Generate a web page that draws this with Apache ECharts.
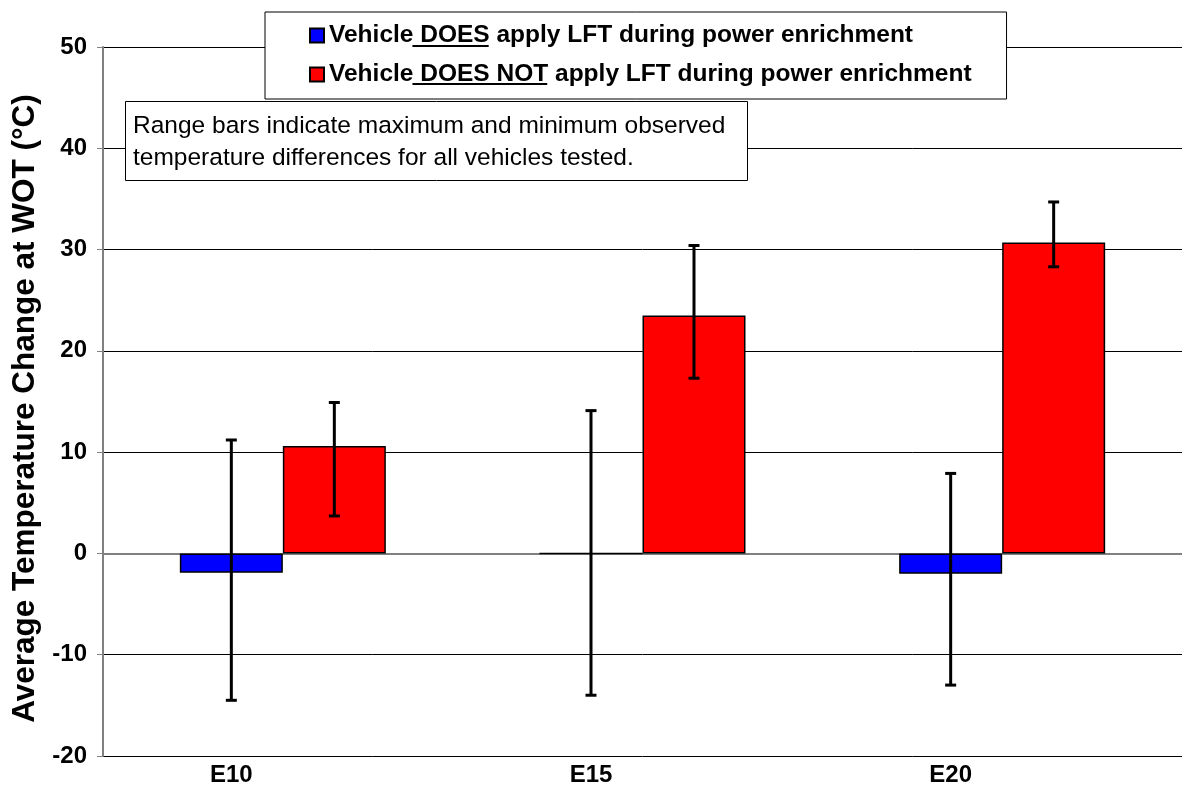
<!DOCTYPE html>
<html>
<head>
<meta charset="utf-8">
<title>Average Temperature Change at WOT</title>
<script src="https://cdn.jsdelivr.net/npm/echarts@6/dist/echarts.min.js"></script>
<style>
  html, body { margin: 0; padding: 0; background: #fff; }
  #main { width: 1182px; height: 787px; }
</style>
</head>
<body>
<div id="main"></div>
<script>
// data
const categories = ["E10", "E15", "E20"];
const seriesNames = [
  "Vehicle DOES apply LFT during power enrichment",
  "Vehicle DOES NOT apply LFT during power enrichment"
];
const doesValues = [-1.9, 0, -2.0];
const doesMin = [-14.5, -14.0, -13.0];
const doesMax = [11.2, 14.1, 7.9];
const notValues = [10.6, 23.5, 30.7];
const notMin = [3.7, 17.3, 28.3];
const notMax = [14.9, 30.4, 34.7];
const yMin = -20;
const yMax = 50;
const yStep = 10;

const FONT = "'Liberation Sans', Arial, sans-serif";
const BAR_W = 103;
const CAP = 5.5;

// legend box layout
const LEG_LEFT = 265;
const LEG_TOP = 12;
const LEG_PAD = [11, 35, 12, 44];
const LEG_ROW = 24;
const LEG_GAP = 14;
const LEG_FONT = 24.5;

/* range bar drawer, offset = shift from category centre */
function rangeRenderer(offset) {
  return function (params, api) {
    let x = api.coord([api.value(0), 0])[0] + offset;
    let yLow = api.coord([api.value(0), api.value(1)])[1];
    let yHigh = api.coord([api.value(0), api.value(2)])[1];
    let style = { stroke: "#000", lineWidth: 3 };
    return {
      type: "group",
      children: [
        { type: "line", shape: { x1: x, y1: yHigh, x2: x, y2: yLow }, style: style },
        { type: "line", shape: { x1: x - CAP, y1: yHigh, x2: x + CAP, y2: yHigh }, style: style },
        { type: "line", shape: { x1: x - CAP, y1: yLow, x2: x + CAP, y2: yLow }, style: style }
      ]
    };
  };
}

function rangeData(mins, maxs) {
  return categories.map(function (c, i) {
    return [i, mins[i], maxs[i]];
  });
}

/* underline the "DOES" / "DOES NOT" part of the legend texts */
function underlines() {
  let ctx = document.createElement("canvas").getContext("2d");
  ctx.font = "bold " + LEG_FONT + "px " + FONT;
  let textX = LEG_LEFT + LEG_PAD[3] + 14 + 5;
  let parts = [" DOES", " DOES NOT"];
  let out = [];
  parts.forEach(function (p, i) {
    let x1 = textX + ctx.measureText("Vehicle").width;
    let x2 = textX + ctx.measureText("Vehicle" + p).width;
    let y = LEG_TOP + LEG_PAD[0] + i * (LEG_ROW + LEG_GAP) + LEG_ROW / 2 + 11;
    out.push({
      type: "line",
      z: 100,
      shape: { x1: x1, y1: y, x2: x2, y2: y },
      style: { stroke: "#000", lineWidth: 2 }
    });
  });
  return out;
}

let chart = echarts.init(document.getElementById("main"));

let option = {
  backgroundColor: "#fff",
  animation: false,
  textStyle: { fontFamily: FONT },
  grid: {
    left: 103,
    right: -4,
    top: 47,
    bottom: 27,
    containLabel: false
  },
  title: {
    text: "Range bars indicate maximum and minimum observed\ntemperature differences for all vehicles tested.",
    left: 125,
    top: 101,
    padding: [9, 22, 7, 8],
    backgroundColor: "#fff",
    borderColor: "#000",
    borderWidth: 1,
    textStyle: {
      fontFamily: FONT,
      fontSize: 24.5,
      fontWeight: "normal",
      color: "#000",
      lineHeight: 32
    }
  },
  legend: {
    orient: "vertical",
    left: LEG_LEFT,
    top: LEG_TOP,
    padding: LEG_PAD,
    itemGap: LEG_GAP,
    itemWidth: 14,
    itemHeight: 14,
    icon: "rect",
    backgroundColor: "#fff",
    borderColor: "#000",
    borderWidth: 1,
    borderRadius: 0,
    data: seriesNames,
    textStyle: {
      fontFamily: FONT,
      fontSize: LEG_FONT,
      fontWeight: "bold",
      color: "#000",
      lineHeight: LEG_ROW
    }
  },
  xAxis: {
    type: "category",
    data: categories,
    axisLine: { lineStyle: { color: "#808080", width: 2 } },
    axisTick: { show: false },
    axisLabel: {
      color: "#000",
      fontSize: 24,
      fontWeight: "bold",
      fontFamily: FONT,
      margin: 7,
      padding: [0, BAR_W, 0, 0]
    }
  },
  yAxis: {
    type: "value",
    min: yMin,
    max: yMax,
    interval: yStep,
    name: "Average Temperature Change at WOT (°C)",
    nameLocation: "middle",
    nameGap: 57,
    nameTextStyle: {
      color: "#000",
      fontSize: 31.5,
      fontWeight: "bold",
      fontFamily: FONT,
      padding: [0, 14, 0, 0]
    },
    axisLine: { show: true, lineStyle: { color: "#808080", width: 2 } },
    axisTick: { show: true, length: 6, lineStyle: { color: "#808080" } },
    axisLabel: {
      color: "#000",
      fontSize: 24,
      fontWeight: "bold",
      fontFamily: FONT,
      margin: 16
    },
    splitLine: { lineStyle: { color: "#000", width: 1 } }
  },
  series: [
    {
      name: seriesNames[0],
      type: "bar",
      data: doesValues,
      barWidth: BAR_W,
      barGap: "0%",
      itemStyle: { color: "#0000ff", borderColor: "#000", borderWidth: 1.5 }
    },
    {
      name: seriesNames[1],
      type: "bar",
      data: notValues,
      barWidth: BAR_W,
      barGap: "0%",
      itemStyle: { color: "#ff0000", borderColor: "#000", borderWidth: 1.5 }
    },
    {
      type: "custom",
      z: 5,
      renderItem: rangeRenderer(-BAR_W / 2),
      encode: { x: 0, y: [1, 2] },
      data: rangeData(doesMin, doesMax)
    },
    {
      type: "custom",
      z: 5,
      renderItem: rangeRenderer(BAR_W / 2),
      encode: { x: 0, y: [1, 2] },
      data: rangeData(notMin, notMax)
    }
  ],
  graphic: underlines()
};

chart.setOption(option);
</script>
</body>
</html>
